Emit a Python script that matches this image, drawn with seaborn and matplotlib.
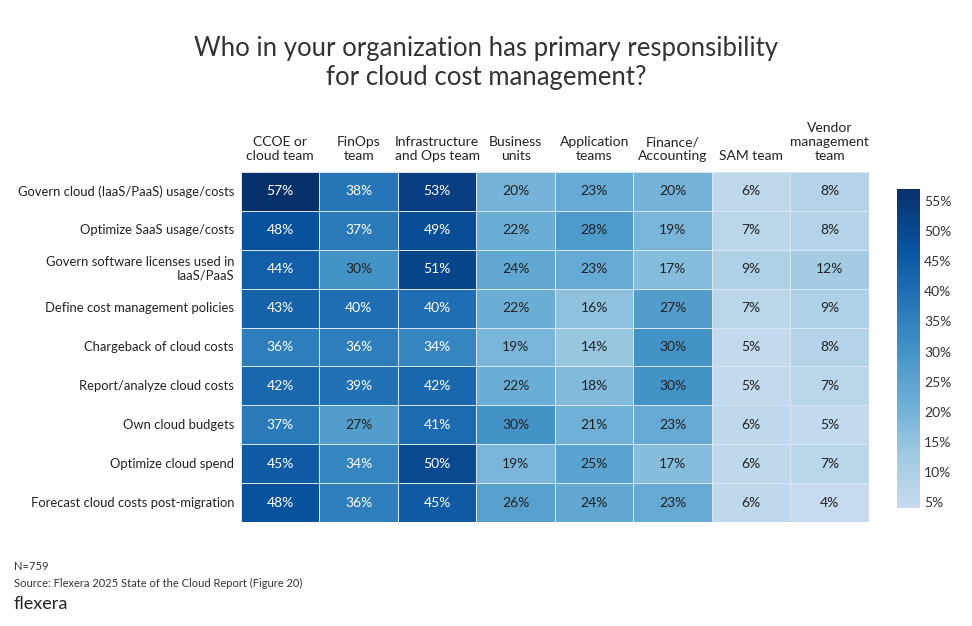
import matplotlib
matplotlib.use("Agg")
import matplotlib.pyplot as plt
import matplotlib.colors as mcolors
import numpy as np
import pandas as pd
import seaborn as sns

sns.set_theme(style="white")
plt.rcParams['font.family'] = ['Lato', 'DejaVu Sans']

tasks = [
    "Govern cloud (IaaS/PaaS) usage/costs",
    "Optimize SaaS usage/costs",
    "Govern software licenses used in\nIaaS/PaaS",
    "Define cost management policies",
    "Chargeback of cloud costs",
    "Report/analyze cloud costs",
    "Own cloud budgets",
    "Optimize cloud spend",
    "Forecast cloud costs post-migration",
]
teams = [
    "CCOE or\ncloud team",
    "FinOps\nteam",
    "Infrastructure\nand Ops team",
    "Business\nunits",
    "Application\nteams",
    "Finance/\nAccounting",
    "SAM team",
    "Vendor\nmanagement\nteam",
]
ccoe    = [57, 48, 44, 43, 36, 42, 37, 45, 48]
finops  = [38, 37, 30, 40, 36, 39, 27, 34, 36]
infra   = [53, 49, 51, 40, 34, 42, 41, 50, 45]
bizunit = [20, 22, 24, 22, 19, 22, 30, 19, 26]
appteam = [23, 28, 23, 16, 14, 18, 21, 25, 24]
finance = [20, 19, 17, 27, 30, 30, 23, 17, 23]
sam     = [6, 7, 9, 7, 5, 5, 6, 6, 6]
vendor  = [8, 8, 12, 9, 8, 7, 5, 7, 4]
cbar_ticks = [5, 10, 15, 20, 25, 30, 35, 40, 45, 50, 55]

df = pd.DataFrame(
    np.array([ccoe, finops, infra, bizunit, appteam, finance, sam, vendor]).T,
    index=tasks, columns=teams)

base = plt.get_cmap("Blues")
cmap = mcolors.LinearSegmentedColormap.from_list(
    "blues_trunc", base(np.linspace(0.25, 1.0, 256)))

fig = plt.figure(figsize=(9.72, 6.26), dpi=100)
ax = fig.add_axes([0.2479, 0.1661, 0.646, 0.5591])
cax = fig.add_axes([0.9228, 0.1885, 0.0237, 0.5096])

annot = df.map(lambda v: f"{v}%")
sns.heatmap(df, ax=ax, cbar_ax=cax, cmap=cmap, vmin=4, vmax=57,
            annot=annot, fmt="", linewidths=0.4, linecolor="#d8e6f2",
            annot_kws={"fontsize": 10})
for t, v in zip(ax.texts, df.values.flatten()):
    t.set_color("white" if v >= 33 else "#222222")

ax.xaxis.tick_top()
ax.set_xticklabels(teams, rotation=0, fontsize=10, color="#222222",
                   linespacing=1.22, va="bottom")
ax.set_yticklabels(tasks, rotation=0, fontsize=9.4, color="#222222",
                   linespacing=1.15, ha="right")
ax.tick_params(axis="x", length=0, pad=7)
ax.tick_params(axis="y", length=0, pad=5)
ax.set_xlabel("")
ax.set_ylabel("")

cb = ax.collections[0].colorbar
cb.set_ticks(cbar_ticks)
cb.set_ticklabels([f"{t}%" for t in cbar_ticks])
cb.ax.tick_params(length=0, labelsize=10, labelcolor="#333333", pad=3)
cb.outline.set_visible(False)

fig.text(0.5, 1 - 63 / 626, "Who in your organization has primary responsibility\nfor cloud cost management?",
         ha="center", va="center", fontsize=18.5, color="#333333", linespacing=1.2)
fig.text(0.0144, 1 - 567 / 626, "N=759", fontsize=8, color="#333333", va="center")
fig.text(0.0144, 1 - 583 / 626, "Source: Flexera 2025 State of the Cloud Report (Figure 20)",
         fontsize=8, color="#333333", va="center")
fig.text(0.0144, 1 - 604 / 626, "flexera", fontsize=13, color="#222222", va="center")

fig.savefig("out.png", dpi=100, facecolor="white")
